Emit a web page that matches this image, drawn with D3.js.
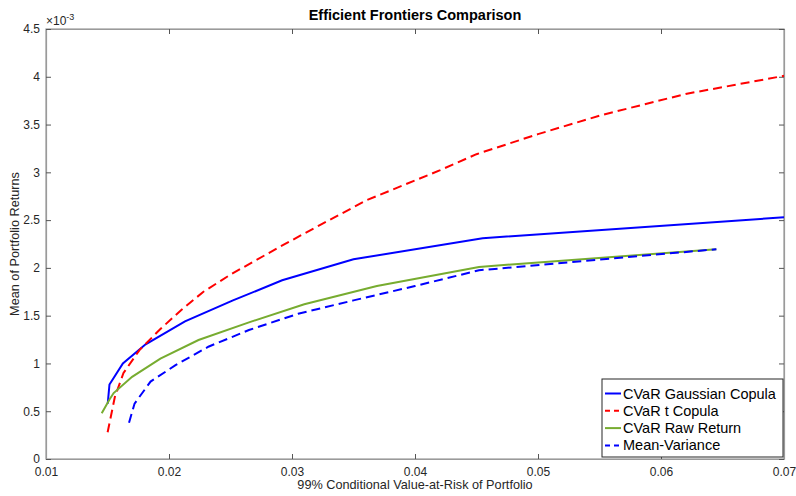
<!DOCTYPE html>
<html><head><meta charset="utf-8">
<script src="https://cdn.jsdelivr.net/npm/d3@7"></script>
<style>body{margin:0;background:#fff}svg{display:block}text{font-family:"Liberation Sans",Arial,Helvetica,sans-serif}</style>
</head><body>
<svg id="c" width="796" height="496"></svg>
<script>
const gaussX = [0.01502,0.01516,0.01625,0.0181,0.0213,0.0252,0.0292,0.0350,0.0455,0.0700];
const gaussY = [0.58,0.78,1.0,1.2,1.44,1.66,1.87,2.09,2.31,2.53];
const tX = [0.01501,0.0156,0.0163,0.0176,0.0193,0.0210,0.0228,0.0250,0.0290,0.0323,0.0361,0.0420,0.0450,0.0500,0.0552,0.0620,0.0700];
const tY = [0.28,0.65,0.9,1.14,1.36,1.56,1.75,1.93,2.22,2.45,2.71,3.02,3.19,3.40,3.60,3.82,4.01];
const rawX = [0.01453,0.01515,0.0155,0.0170,0.0193,0.0224,0.0265,0.0310,0.0369,0.0452,0.0645];
const rawY = [0.48,0.62,0.69,0.86,1.05,1.245,1.43,1.62,1.81,2.01,2.195];
const mvX = [0.01675,0.0172,0.0185,0.0205,0.0232,0.0265,0.0305,0.0350,0.0400,0.0452,0.0645];
const mvY = [0.38,0.58,0.81,0.98,1.175,1.35,1.52,1.66,1.81,1.975,2.195];
const xTicks = [0.01,0.02,0.03,0.04,0.05,0.06,0.07];
const yTicks = [0,0.5,1,1.5,2,2.5,3,3.5,4,4.5];
const seriesNames = ["CVaR Gaussian Copula","CVaR t Copula","CVaR Raw Return","Mean-Variance"];

const svg = d3.select("#c");
const L=46,R=784,T=29,B=459;
const x = d3.scaleLinear().domain([0.01,0.07]).range([L,R]);
const y = d3.scaleLinear().domain([0,4.5]).range([B,T]);
const axCol="#262626";

svg.append("rect").attr("x",L).attr("y",T).attr("width",R-L).attr("height",B-T)
  .attr("fill","none").attr("stroke","#9a9a9a").attr("stroke-width",1.2);

const fmtX = d=>String(+d.toFixed(2));
const fmtY = d=>String(d);
const xb = svg.append("g").attr("transform",`translate(0,${B})`)
  .call(d3.axisBottom(x).tickValues(xTicks).tickFormat(fmtX).tickSizeInner(-5).tickSizeOuter(0).tickPadding(8));
const xt = svg.append("g").attr("transform",`translate(0,${T})`)
  .call(d3.axisTop(x).tickValues(xTicks).tickFormat("").tickSizeInner(-5).tickSizeOuter(0));
const yl = svg.append("g").attr("transform",`translate(${L},0)`)
  .call(d3.axisLeft(y).tickValues(yTicks).tickFormat(fmtY).tickSizeInner(-5).tickSizeOuter(0).tickPadding(6));
const yr = svg.append("g").attr("transform",`translate(${R},0)`)
  .call(d3.axisRight(y).tickValues(yTicks).tickFormat("").tickSizeInner(-5).tickSizeOuter(0));
[xb,xt,yl,yr].forEach(g=>{
  g.select(".domain").attr("stroke","#9a9a9a").attr("stroke-width",1.2);
  g.selectAll(".tick line").attr("stroke","#555");
  g.selectAll(".tick text").attr("fill",axCol).attr("font-size",12);
});

const ex = svg.append("text").attr("x",L).attr("y",T-4).attr("font-size",12).attr("fill",axCol);
ex.append("tspan").text("\u00d710");
ex.append("tspan").attr("dy",-5).attr("font-size",9).text("-3");

svg.append("text").attr("x",(L+R)/2).attr("y",20).attr("text-anchor","middle")
  .attr("font-weight","bold").attr("font-size",14.5).attr("fill","#000").text("Efficient Frontiers Comparison");
svg.append("text").attr("x",(L+R)/2).attr("y",489).attr("text-anchor","middle")
  .attr("font-size",12.7).attr("fill",axCol).text("99% Conditional Value-at-Risk of Portfolio");
svg.append("text").attr("transform",`translate(19,${(T+B)/2}) rotate(-90)`).attr("text-anchor","middle")
  .attr("font-size",12.7).attr("fill",axCol).text("Mean of Portfolio Returns");

const series = [
  {xs:gaussX, ys:gaussY, color:"#0000ff", dash:null},
  {xs:tX, ys:tY, color:"#ff0000", dash:"9,5"},
  {xs:rawX, ys:rawY, color:"#77ac30", dash:null},
  {xs:mvX, ys:mvY, color:"#0000ff", dash:"9,5"}
];
const line = d3.line().x(d=>x(d[0])).y(d=>y(d[1]));
const plot = svg.append("g");
series.forEach(s=>{
  plot.append("path").datum(s.xs.map((v,i)=>[v,s.ys[i]]))
    .attr("d",line).attr("fill","none").attr("stroke",s.color).attr("stroke-width",2)
    .attr("stroke-dasharray",s.dash);
});

const lg = svg.append("g");
lg.append("rect").attr("x",602).attr("y",379).attr("width",181).attr("height",78)
  .attr("fill","#fff").attr("stroke","#262626").attr("stroke-width",1);
series.forEach((s,i)=>{
  const yy = 393.5 + i*17.3;
  lg.append("line").attr("x1",605).attr("x2",621).attr("y1",yy).attr("y2",yy)
    .attr("stroke",s.color).attr("stroke-width",2).attr("stroke-dasharray",s.dash?"5,4":null);
  lg.append("text").attr("x",623).attr("y",yy+5).attr("font-size",14.5).attr("fill","#000").text(seriesNames[i]);
});
</script>
</body></html>
